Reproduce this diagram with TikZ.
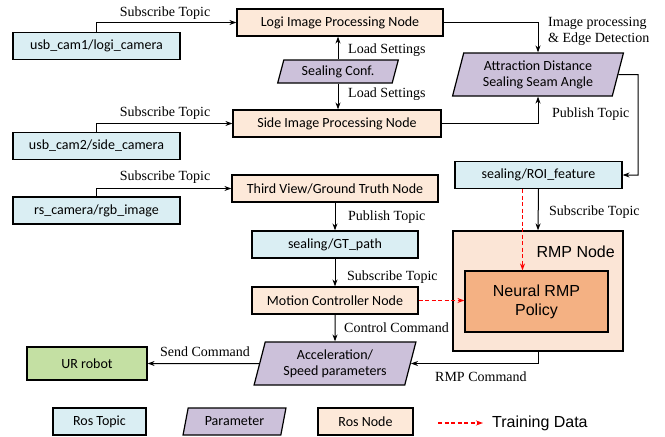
\documentclass[tikz,border=0pt]{standalone}
\usepackage{fontspec}
\setmainfont{Liberation Serif}
\newfontfamily\boxfont{Carlito}
\newfontfamily\arialfont{Liberation Sans}
\usetikzlibrary{arrows.meta,shapes.geometric,calc,backgrounds}

\definecolor{topicblue}{HTML}{DAEEF3}
\definecolor{parampurple}{HTML}{CCC1DA}
\definecolor{nodeorange}{HTML}{FDE9D9}
\definecolor{robotgreen}{HTML}{C4E0A3}
\definecolor{policyorange}{HTML}{F4B183}
\definecolor{rmporange}{HTML}{FBE5D6}

\tikzset{
  box/.style={rectangle, draw=black, line width=1.2pt, minimum height=27pt, inner sep=2pt,
              font=\boxfont\fontsize{14}{16}\selectfont},
  topic/.style={box, fill=topicblue},
  rosnode/.style={box, fill=nodeorange},
  param/.style={box, trapezium, trapezium left angle=75, trapezium right angle=105,
                trapezium stretches=true, fill=parampurple, align=center},
  lbl/.style={font=\fontsize{14}{16}\selectfont, inner sep=1pt},
  conn/.style={->, line width=1pt},
  train/.style={->, red, line width=1.2pt, dash pattern=on 4pt off 2.5pt}
}

\begin{document}
\begin{tikzpicture}[x=1pt, y=-1pt, >={Stealth[length=7pt,width=5pt]}]
  \useasboundingbox (0,0) rectangle (665,437);

  % cameras
  \node[topic, minimum width=167pt] (cam1) at (96.5,46) {usb\_cam1/logi\_camera};
  \node[topic, minimum width=167pt] (cam2) at (96.5,146) {usb\_cam2/side\_camera};
  \node[topic, minimum width=167pt] (cam3) at (96.5,210.5) {rs\_camera/rgb\_image};

  % middle column
  \node[rosnode, minimum width=206pt] (logi) at (340,22.5) {Logi Image Processing Node};
  \node[param, minimum width=121pt, minimum height=23pt] (conf) at (338,71.5) {Sealing Conf.};
  \node[rosnode, minimum width=208pt] (side) at (337,123.5) {Side Image Processing Node};
  \node[rosnode, minimum width=206pt] (third) at (335,188.5) {Third View/Ground Truth Node};
  \node[topic, minimum width=166pt] (gt) at (335,244.5) {sealing/GT\_path};
  \node[rosnode, minimum width=166pt] (motion) at (335,300.5) {Motion Controller Node};
  \node[param, minimum width=162pt, minimum height=43pt] (acc) at (335,363.5) {Acceleration/\\Speed parameters};
  \node[box, fill=robotgreen, minimum width=120pt, minimum height=33pt] (ur) at (87,363.5) {UR robot};

  % right column
  \node[param, minimum width=171pt, minimum height=43pt] (attr) at (538,74.5) {Attraction Distance\\Sealing Seam Angle};
  \node[topic, minimum width=167pt] (roi) at (538.5,175) {sealing/ROI\_feature};
  \node[box, fill=rmporange, minimum width=170pt, minimum height=120pt] (rmp) at (538,291) {};
  \node[box, fill=policyorange, minimum width=143pt, minimum height=61pt, align=center,
        font=\arialfont\fontsize{16}{19}\selectfont] (neural) at (536.5,301.5) {Neural RMP\\Policy};
  \node[anchor=east, inner sep=0pt, font=\arialfont\fontsize{16}{19}\selectfont] (rmplabel) at (615,252) {RMP Node};

  % connectors
  \draw[conn] (cam1.north) |- (logi.west);
  \draw[conn] (cam2.north) |- (side.west);
  \draw[conn] (cam3.north) |- (third.west);
  \draw[conn] (conf.north) -- (conf.north |- logi.south);
  \draw[conn] (conf.south) -- (conf.south |- side.north);
  \draw[conn] (logi.east) -| (attr.north);
  \draw[conn] (side.east) -| (attr.south);
  \coordinate (attrturn) at (638,74.5);
  \draw[conn] (attr.east) -- (attrturn) |- (roi.east);
  \draw[conn] (roi.south) -- (rmp.north);
  \draw[conn] (third.south) -- (gt.north);
  \draw[conn] (gt.south) -- (motion.north);
  \draw[conn] (motion.south) -- (acc.north);
  \draw[conn] (acc.west) -- (ur.east);
  \draw[conn] (rmp.south) |- (acc.east);
  \draw[train] ([xshift=-16pt]roi.south) -- ([xshift=-16pt]roi.south |- neural.north);
  \draw[train] (motion.east) -- (motion.east -| neural.west);

  % connector labels
  \node[lbl] (sub1) at (165,13) {Subscribe Topic};
  \node[lbl] (sub2) at (165,113) {Subscribe Topic};
  \node[lbl] (sub3) at (165,177) {Subscribe Topic};
  \node[lbl, anchor=west] (load1) at (347,50) {Load Settings};
  \node[lbl, anchor=west] (load2) at (347,94) {Load Settings};
  \node[lbl, anchor=west, align=left] (edge) at (547,31) {Image processing\\\& Edge Detection};
  \node[lbl, anchor=west] (pub1) at (551,114) {Publish Topic};
  \node[lbl, anchor=west] (sub4) at (548,212) {Subscribe Topic};
  \node[lbl, anchor=west] (pub2) at (347,217) {Publish Topic};
  \node[lbl, anchor=west] (sub5) at (346,277) {Subscribe Topic};
  \node[lbl, anchor=west] (ctrl) at (343,328) {Control Command};
  \node[lbl] (send) at (205,352) {Send Command};
  \node[lbl, anchor=west] (rmpcmd) at (434,377) {RMP Command};

  % legend
  \node[topic, minimum width=93pt] (legtopic) at (99.5,421.5) {Ros Topic};
  \node[param, minimum width=103pt, minimum height=27pt] (legparam) at (234.5,421.5) {Parameter};
  \node[rosnode, minimum width=95pt] (legnode) at (365.5,421.5) {Ros Node};
  \coordinate (legstart) at (438,423);
  \coordinate (legend) at (483,423);
  \node[anchor=west, inner sep=0pt, font=\arialfont\fontsize{16}{19}\selectfont] (legtrain) at (492,423) {Training Data};
  \draw[train] (legstart) -- (legend);
\end{tikzpicture}
\end{document}
